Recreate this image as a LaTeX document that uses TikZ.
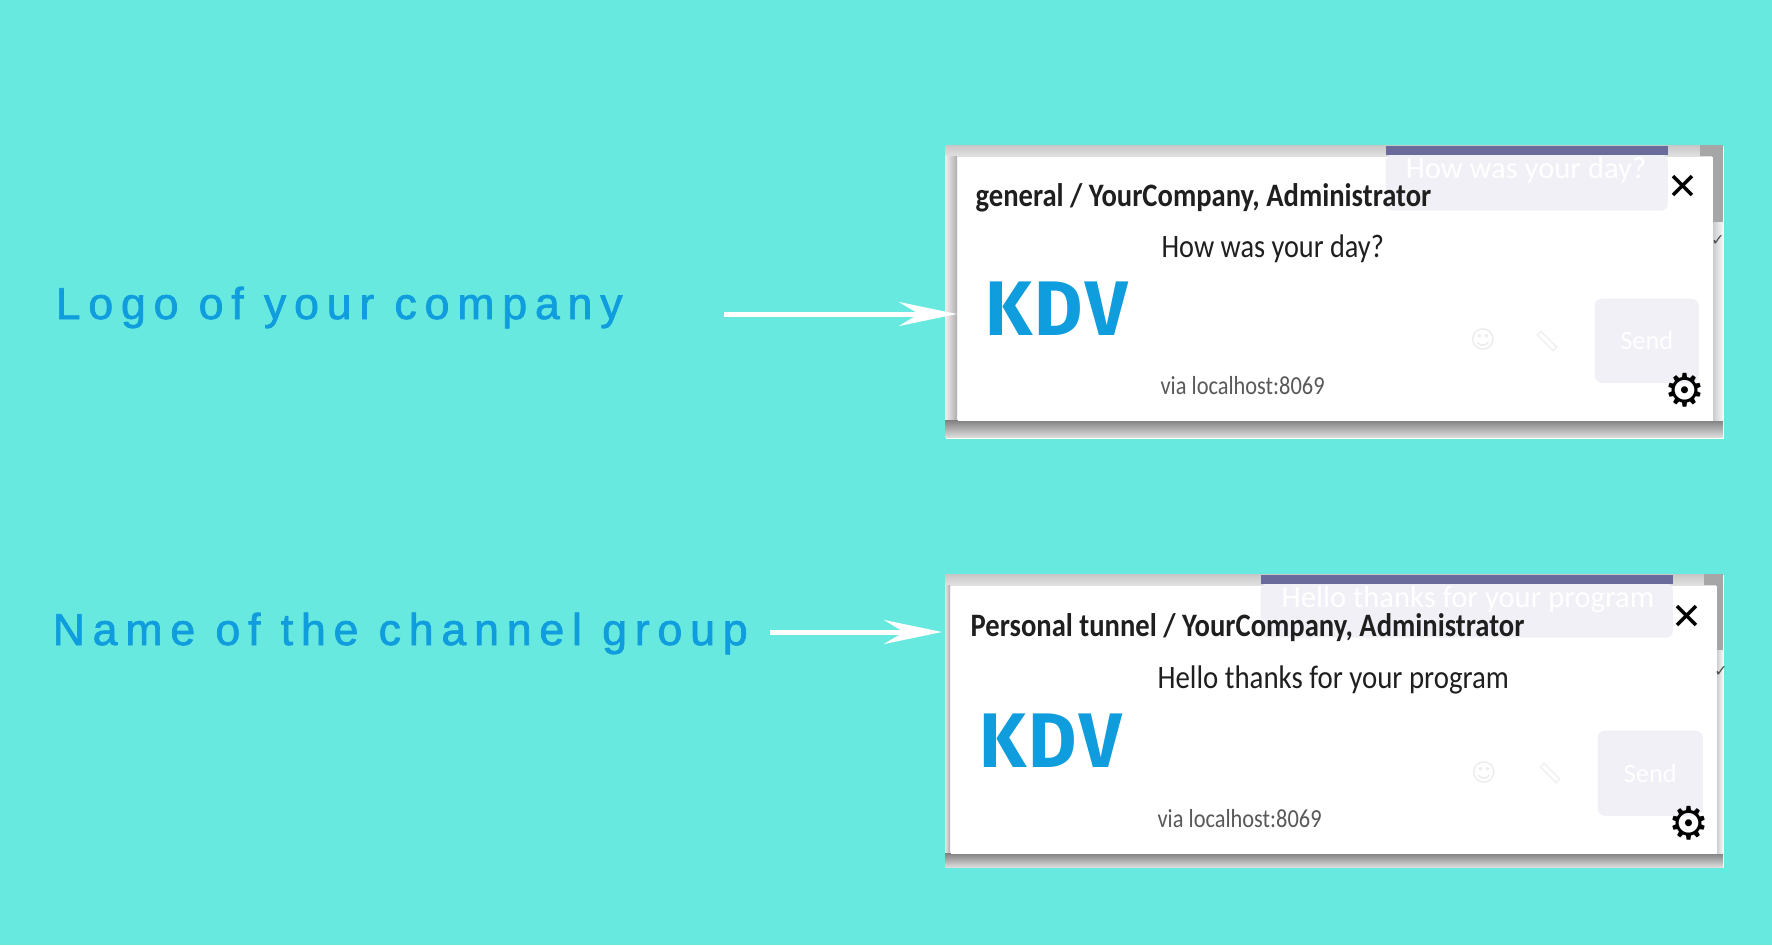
\documentclass[tikz,border=0pt]{standalone}
\usepackage{fontspec}
\usepackage{tikz}
\usetikzlibrary{arrows.meta,positioning}
\setmainfont{Carlito}
\newfontfamily\labelfont[LetterSpace=17.5,FakeBold=1.6]{Liberation Sans}
\newfontfamily\logofont[LetterSpace=3]{Fira Sans}
\newfontfamily\symfont{DejaVu Sans}
\definecolor{sea}{RGB}{103,233,224}
\definecolor{sky}{RGB}{15,157,221}
\definecolor{pale}{RGB}{241,240,246}
\definecolor{plum}{RGB}{107,107,155}
\begin{document}
\begin{tikzpicture}[x=0.01cm, y=-0.01cm]
\tikzstyle{panel} = [rectangle, fill=white, inner sep=0pt, anchor=north west, minimum width=7.78cm, minimum height=2.93cm]
\tikzstyle{card} = [rectangle, fill=white, inner sep=0pt, anchor=north west]
\tikzstyle{bar} = [rectangle, fill=plum, inner sep=0pt, anchor=north west, minimum height=0.09cm]
\tikzstyle{bubble} = [rectangle, fill=pale, rounded corners=2pt, inner sep=0pt, anchor=north west]
\tikzstyle{heading} = [inner sep=0pt, anchor=base west, xscale=0.875, font=\fontsize{9.3}{10}\bfseries, text=black!88]
\tikzstyle{message} = [inner sep=0pt, anchor=base west, xscale=0.865, font=\fontsize{9.3}{10}\selectfont, text=black!88]
\tikzstyle{via} = [inner sep=0pt, anchor=base west, xscale=0.86, font=\fontsize{7.4}{9}\selectfont, text=black!65]
\tikzstyle{logo} = [inner sep=0pt, anchor=base west, xscale=0.96, font=\logofont\fontsize{22}{24}\selectfont\bfseries, text=sky]
\tikzstyle{ghost} = [inner sep=0pt, font=\fontsize{9}{10}\selectfont, text=white]
\tikzstyle{faint} = [inner sep=0pt, font=\symfont\fontsize{7}{8}\selectfont, text=black!7]
\tikzstyle{tick} = [inner sep=0pt, font=\symfont\fontsize{4.5}{5}\selectfont, text=black!70]
\tikzstyle{caption} = [inner sep=0pt, anchor=base west, font=\labelfont\fontsize{12.7}{14}\selectfont, text=sky]
\tikzstyle{arrow} = [-{Stealth[length=0.58cm, width=0.24cm, inset=0.2cm]}, white, line width=0.05cm]
\fill[sea] (0,0) rectangle (1772,945);
\useasboundingbox (0,0) rectangle (1772,945);

% upper window
\node (shotA) [panel] at (945,145) {};
\shade[top color=black!22, bottom color=black!12] (945,145) rectangle (1723,156);
\shade[left color=black!6, right color=black!32] (945,156) rectangle (957,420);
\shade[top color=black!50, bottom color=black!14] (945,420) rectangle (1723,437);
\shade[left color=black!22, right color=black!3] (1712,156) rectangle (1723,420);
\fill[black!35] (1700,145) rectangle (1723,156);
\fill[black!35] (1712,156) rectangle (1723,222);
\node (cardA) [card, minimum width=7.55cm, minimum height=2.64cm] at (957,156) {};
\node (bubbleA) [bubble, minimum width=2.82cm, minimum height=0.56cm] at (1385,154) {};
\node (barA) [bar, minimum width=2.82cm] at (1385,145) {};
\node (ghostA) [ghost, font=\fontsize{8.7}{10}\selectfont] at (1526,170) {How was your day?};
\node (sendA) [bubble, minimum width=1.04cm, minimum height=0.84cm] at (1594,298) {};
\node (sendtextA) [ghost, font=\fontsize{7.5}{9}\selectfont] at (sendA.center) {Send};
\node (smileA) [faint] at (1483,340) {☺};
\node (clipA) [rectangle, rotate=-45, draw=black!6, inner sep=0pt, minimum width=0.22cm, minimum height=0.05cm] at (1547,341) {};
\node (tickA) [tick] at (1718,241) {✓};
\node (titleA) [heading] at (975,206) {general / YourCompany, Administrator};
\node (msgA) [message] at (1161,257) {How was your day?};
\node (logoA) [logo] at (985,335) {KDV};
\node (viaA) [via] at (1160,394) {via localhost:8069};
\node (closeA) [inner sep=0pt, font=\symfont\fontsize{10.5}{11}\selectfont] at (1683,187) {✕};
\node (gearA) [inner sep=0pt, font=\symfont\fontsize{13}{14}\selectfont] at (1685,390) {⚙};

% lower window
\node (shotB) [panel] at (945,574) {};
\shade[top color=black!22, bottom color=black!12] (945,574) rectangle (1723,585);
\shade[left color=black!10, right color=black!32] (945,585) rectangle (950,853);
\shade[top color=black!50, bottom color=black!14] (945,853) rectangle (1723,867);
\shade[left color=black!22, right color=black!3] (1716,585) rectangle (1723,853);
\fill[black!35] (1704,574) rectangle (1723,585);
\fill[black!35] (1716,585) rectangle (1723,650);
\node (cardB) [card, minimum width=7.66cm, minimum height=2.68cm] at (950,585) {};
\node (bubbleB) [bubble, minimum width=4.12cm, minimum height=0.54cm] at (1260,583) {};
\node (barB) [bar, minimum width=4.12cm] at (1260,574) {};
\node (ghostB) [ghost, font=\fontsize{8.7}{10}\selectfont] at (1468,599) {Hello thanks for your program};
\node (sendB) [bubble, minimum width=1.05cm, minimum height=0.85cm] at (1597,730) {};
\node (sendtextB) [ghost, font=\fontsize{7.5}{9}\selectfont] at (sendB.center) {Send};
\node (smileB) [faint] at (1484,772) {☺};
\node (clipB) [rectangle, rotate=-45, draw=black!6, inner sep=0pt, minimum width=0.22cm, minimum height=0.05cm] at (1550,773) {};
\node (tickB) [tick] at (1721,672) {✓};
\node (titleB) [heading] at (970,636) {Personal tunnel / YourCompany, Administrator};
\node (msgB) [message, xscale=1.02] at (1157,688) {Hello thanks for your program};
\node (logoB) [logo] at (979,767) {KDV};
\node (viaB) [via] at (1157,827) {via localhost:8069};
\node (closeB) [inner sep=0pt, font=\symfont\fontsize{10.5}{11}\selectfont] at (1687,617) {✕};
\node (gearB) [inner sep=0pt, font=\symfont\fontsize{13}{14}\selectfont] at (1689,823) {⚙};

% captions
\node (capA) [caption] at (55,319) {Logo of your company};
\node (capB) [caption] at (52,645) {Name of the channel group};
\coordinate (tailA) at (724,314);
\coordinate (tailB) at (770,632);
\draw[arrow] (tailA)--(tailA -| cardA.west);
\draw[arrow, shorten >=0.03cm] (tailB)--(tailB -| shotB.west);
\end{tikzpicture}
\end{document}
